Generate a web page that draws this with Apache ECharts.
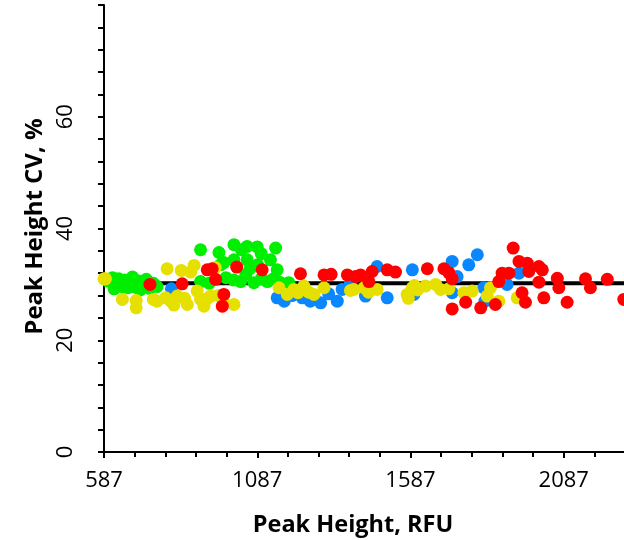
<!DOCTYPE html>
<html>
<head>
<meta charset="utf-8">
<script src="https://cdn.jsdelivr.net/npm/echarts@6/dist/echarts.min.js"></script>
<style>
html,body{margin:0;padding:0;background:#fff;overflow:hidden;}
#c{width:624px;height:540px;}
</style>
</head>
<body>
<div id="c"></div>
<script>
var xTicks = [587, 1087, 1587, 2087, 2587];
var yTicks = [0, 20, 40, 60, 80];
var meanLine = [[587, 30.2], [2287, 30.2]];

var greenPts = [
  [598, 30.6], [615, 31.2], [625, 30.0], [635, 31.0], [645, 29.6], [655, 30.8], [665, 29.4],
  [675, 30.4], [690, 29.5], [700, 30.6], [712, 29.8], [725, 30.9], [735, 29.3], [748, 30.2],
  [620, 29.2], [680, 31.3], [760, 29.6], [705, 29.0],
  [902, 36.2], [962, 35.7], [967, 33.5], [902, 30.5], [930, 30.2], [978, 33.9], [985, 31.2],
  [1011, 37.1], [1054, 36.8], [1087, 36.7], [1147, 36.5], [1011, 34.4], [1054, 34.4], [1130, 34.4],
  [1065, 32.9], [1152, 32.6], [1033, 30.5], [1076, 30.3], [1120, 30.5], [1100, 31.0], [1190, 30.3],
  [1035, 36.2], [1100, 35.5], [1050, 31.8], [1140, 31.0], [1010, 30.8], [1088, 33.5], [1160, 30.4]
];
var yellowPts = [
  [587, 31.0], [592, 31.0], [647, 27.3], [692, 27.1], [692, 25.8], [748, 27.3], [760, 27.0],
  [788, 27.6], [793, 32.8], [805, 27.0], [815, 26.3], [826, 27.9], [839, 32.5], [850, 27.5],
  [859, 26.4], [870, 32.2], [881, 33.4], [891, 28.8], [902, 27.3], [913, 26.1], [925, 27.5],
  [935, 27.9], [950, 33.0], [960, 28.0], [975, 27.2], [1011, 26.4], [1158, 29.4], [1185, 28.2],
  [1207, 29.1], [1239, 29.7], [1255, 28.6], [1272, 28.2], [1305, 29.4], [1220, 28.5], [1391, 28.9],
  [1402, 29.1], [1435, 29.4], [1478, 29.1], [1450, 28.6], [1576, 28.2], [1593, 29.4], [1610, 29.0],
  [1636, 29.7], [1669, 30.0], [1685, 29.1], [1712, 29.2], [1761, 28.5], [1788, 28.8], [1848, 29.4],
  [1837, 27.9], [1875, 27.0], [1935, 27.6], [1580, 27.5], [1600, 29.8]
];
var redPts = [
  [737, 30.0], [842, 30.1], [924, 32.6], [940, 32.8], [951, 30.9], [978, 28.2], [973, 26.1],
  [1020, 33.1], [1103, 32.6], [1228, 31.9], [1305, 31.7], [1328, 31.8], [1381, 31.7], [1408, 31.4],
  [1424, 31.7], [1462, 32.3], [1451, 30.5], [1511, 32.6], [1538, 32.2], [1642, 32.8], [1696, 32.8],
  [1712, 32.1], [1723, 31.0], [1723, 25.6], [1767, 26.8], [1816, 25.8], [1864, 26.4], [1875, 30.5],
  [1886, 32.0], [1908, 32.0], [1922, 36.5], [1941, 34.1], [1951, 28.5], [1962, 26.8], [1968, 33.8],
  [1973, 32.3], [2006, 33.2], [2006, 30.4], [2017, 32.6], [2022, 27.6], [2066, 31.1], [2071, 29.4],
  [2098, 26.8], [2158, 31.0], [2174, 29.4], [2229, 30.9], [2283, 27.3]
];
var bluePts = [
  [807, 29.2], [1152, 27.6], [1175, 27.0], [1200, 28.0], [1234, 27.6], [1260, 27.0], [1294, 26.7],
  [1320, 28.3], [1348, 27.0], [1364, 29.1], [1390, 30.0], [1440, 27.9], [1478, 33.2], [1511, 27.6],
  [1593, 32.6], [1598, 28.2], [1723, 34.1], [1739, 31.4], [1777, 33.5], [1805, 35.3], [1723, 28.5],
  [1826, 29.4], [1902, 30.0], [1941, 32.0], [1830, 27.0]
];

var FONT = 'Open Sans';
var chart = echarts.init(document.getElementById('c'), null, {renderer: 'canvas'});
function sc(data, color) {
  return {type: 'scatter', data: data, symbolSize: 13, itemStyle: {color: color, opacity: 1}, silent: true, animation: false};
}
chart.setOption({
  animation: false,
  backgroundColor: '#fff',
  grid: {left: 104, top: 5, bottom: 88, right: -93, containLabel: false, outerBoundsMode: 'none'},
  xAxis: {
    type: 'value', min: xTicks[0], max: xTicks[xTicks.length - 1], interval: xTicks[1] - xTicks[0],
    axisLine: {show: true, onZero: false, lineStyle: {color: '#000', width: 2}},
    axisTick: {show: true, length: 6, lineStyle: {color: '#000', width: 2}},
    minorTick: {show: true, splitNumber: 5, length: 5, lineStyle: {color: '#000', width: 2}},
    splitLine: {show: false},
    axisLabel: {color: '#000', fontFamily: FONT, fontSize: 22, margin: 18, showMaxLabel: false,
      formatter: function (v) { return String(v); }}
  },
  yAxis: {
    type: 'value', min: yTicks[0], max: yTicks[yTicks.length - 1], interval: yTicks[1] - yTicks[0],
    name: 'Peak Height CV, %', nameLocation: 'middle', nameRotate: 90, nameGap: 56,
    nameTextStyle: {color: '#000', fontFamily: FONT, fontSize: 24, fontWeight: 'bold', padding: [0, 0, 0, 4]},
    axisLine: {show: true, onZero: false, lineStyle: {color: '#000', width: 2}},
    axisTick: {show: true, length: 6, lineStyle: {color: '#000', width: 2}},
    minorTick: {show: true, splitNumber: 5, length: 6, lineStyle: {color: '#000', width: 2}},
    splitLine: {show: false},
    axisLabel: {color: '#000', fontFamily: FONT, fontSize: 22, rotate: 90, margin: 27,
      showMaxLabel: false, formatter: function (v) { return String(v); }}
  },
  graphic: [{
    type: 'text', x: 353, y: 525,
    style: {text: 'Peak Height, RFU', fill: '#000', font: 'bold 23.5px "Open Sans"', textAlign: 'center', textVerticalAlign: 'middle'}
  }],
  series: [
    {type: 'line', data: meanLine, symbol: 'none', lineStyle: {color: '#000', width: 4}, silent: true, z: 1},
    Object.assign(sc(bluePts, '#0A86FF'), {z: 2}),
    Object.assign(sc(greenPts, '#00EE00'), {z: 3}),
    Object.assign(sc(yellowPts, '#E5E000'), {z: 4}),
    Object.assign(sc(redPts, '#FF0000'), {z: 5})
  ]
});
</script>
</body>
</html>
